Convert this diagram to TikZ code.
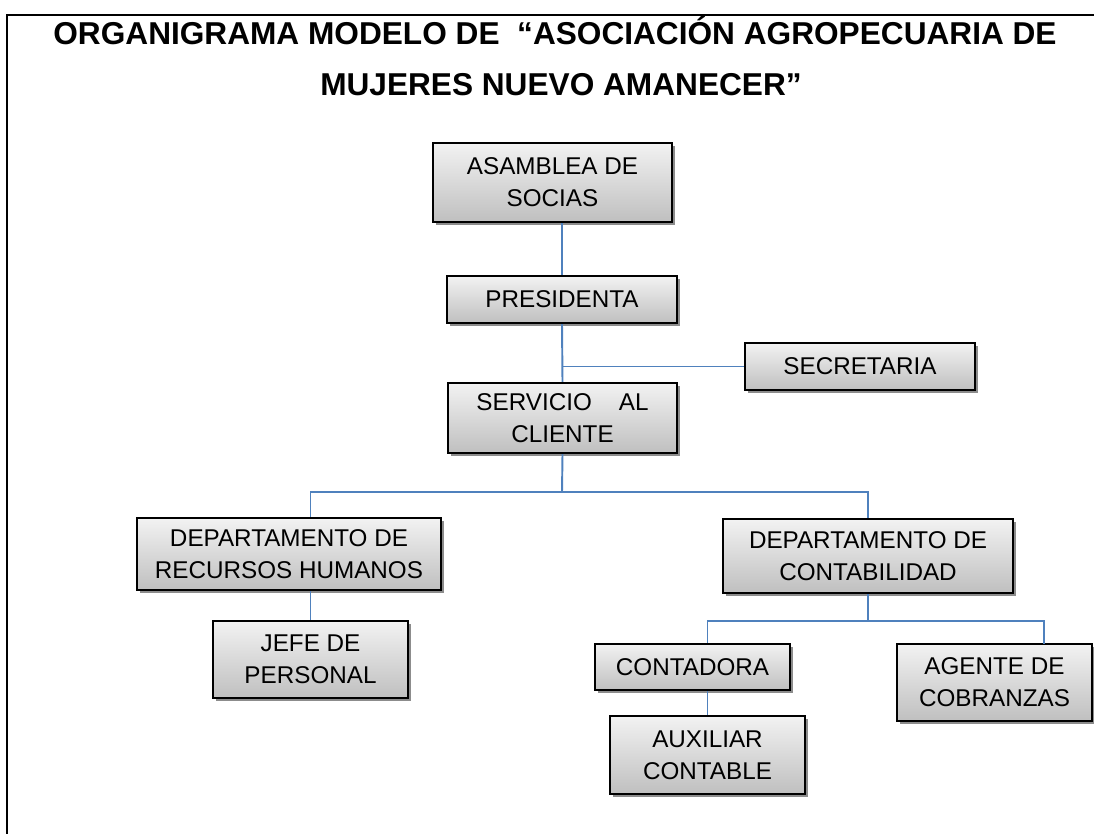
\documentclass[tikz,border=0pt]{standalone}
\usepackage{fontspec}
\setmainfont{Liberation Sans}
\usetikzlibrary{shadows}
\definecolor{linea}{HTML}{4F81BD}
\tikzset{
  cargo/.style={draw=black, line width=1.2pt, top color=gray!10, bottom color=gray!50,
    drop shadow={shadow xshift=1.8pt, shadow yshift=-1.8pt, fill=gray!90, opacity=1},
    align=center, inner sep=0pt, font=\fontsize{13.8}{18.2}\selectfont},
  enlace/.style={draw=linea, line width=1.1pt},
  titulo/.style={anchor=base, inner sep=0pt, font=\fontsize{18}{20}\selectfont\bfseries}
}
\begin{document}
\begin{tikzpicture}[x=0.02cm,y=-0.02cm]
  \useasboundingbox (0,0) rectangle (1094,834);
  % marco
  \draw[line width=1.2pt] (1094,15) -- (7,15) -- (7,834);
  \node[titulo] (titulo1) at (555,45) {ORGANIGRAMA MODELO DE\ \ “ASOCIACIÓN AGROPECUARIA DE};
  \node[titulo] (titulo2) at (561,96) {MUJERES NUEVO AMANECER”};

  % cargos
  \node[cargo, minimum width=4.78cm, minimum height=1.58cm] (asamblea) at (552.5,182.5) {ASAMBLEA DE\\SOCIAS};
  \node[cargo, minimum width=4.6cm, minimum height=0.94cm] (presidenta) at (562,299.5) {PRESIDENTA};
  \node[cargo, minimum width=4.6cm, minimum height=0.94cm] (secretaria) at (860,366.5) {SECRETARIA};
  \node[cargo, minimum width=4.58cm, minimum height=1.4cm] (servicio) at (562.5,418) {SERVICIO\ \ \ \ AL\\CLIENTE};
  \node[cargo, minimum width=6.08cm, minimum height=1.44cm] (rrhh) at (289,554) {DEPARTAMENTO DE\\RECURSOS HUMANOS};
  \node[cargo, minimum width=5.8cm, minimum height=1.48cm] (contab) at (868,556) {DEPARTAMENTO DE\\CONTABILIDAD};
  \node[cargo, minimum width=3.9cm, minimum height=1.54cm] (jefe) at (310.5,659.5) {JEFE DE\\PERSONAL};
  \node[cargo, minimum width=3.9cm, minimum height=0.92cm] (contadora) at (692.5,667) {CONTADORA};
  \node[cargo, minimum width=3.9cm, minimum height=1.54cm] (agente) at (994.5,682.5) {AGENTE DE\\COBRANZAS};
  \node[cargo, minimum width=3.9cm, minimum height=1.56cm] (auxiliar) at (707.5,755) {AUXILIAR\\CONTABLE};

  % lineas
  \coordinate (bus1) at (562,492);
  \coordinate (agentetop) at (1044,644);
  \draw[enlace] (presidenta.north) -- (presidenta.north |- asamblea.south);
  \draw[enlace] (presidenta.south) -- (servicio.north);
  \draw[enlace] (secretaria.west) -- (secretaria.west -| presidenta.south);
  \draw[enlace] (servicio.south) -- (bus1);
  \draw[enlace] (rrhh.north -| jefe.north) |- (bus1) -| (contab.north);
  \draw[enlace] (jefe.north) -- (jefe.north |- rrhh.south);
  \draw[enlace] (contab.south) -- ++(0,27) coordinate (bus2);
  \draw[enlace] (auxiliar.north |- contadora.north) |- (bus2) -| (agentetop);
  \draw[enlace] (auxiliar.north) -- (auxiliar.north |- contadora.south);
\end{tikzpicture}
\end{document}
